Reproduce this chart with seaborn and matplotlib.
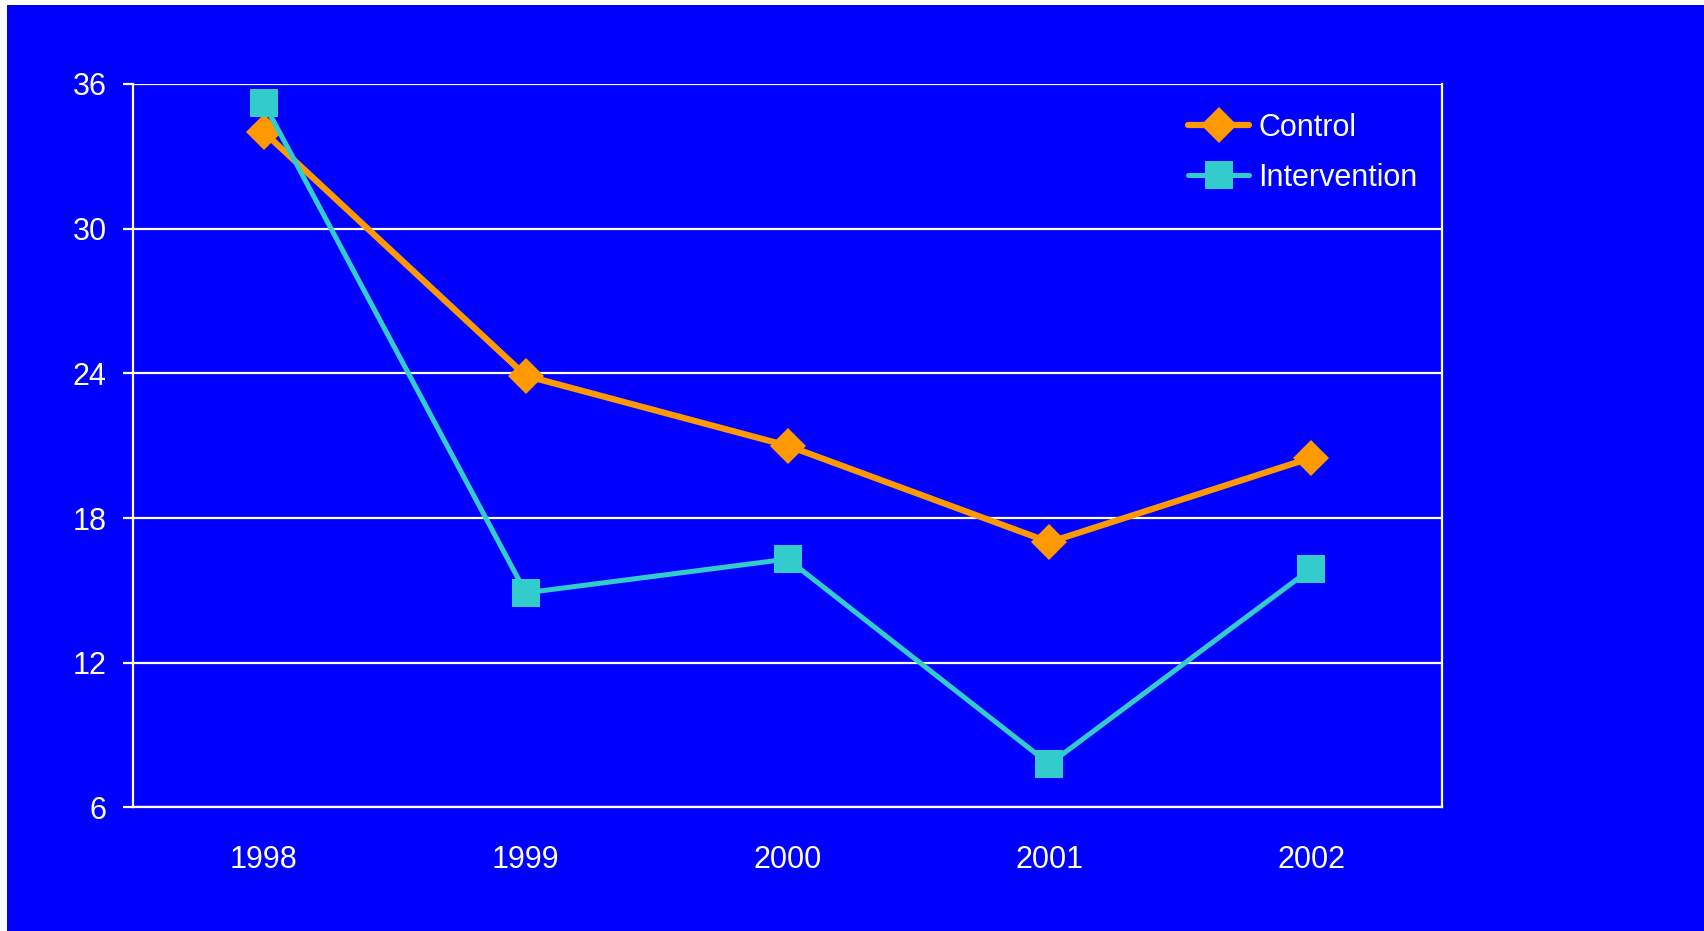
import seaborn as sns
import matplotlib.pyplot as plt
import pandas as pd
from matplotlib.patches import Rectangle

# values
years = ['1998', '1999', '2000', '2001', '2002']
control = [34.0, 23.9, 21.0, 17.0, 20.5]
intervention = [35.2, 14.9, 16.3, 7.8, 15.9]
y_ticks = [6, 12, 18, 24, 30, 36]

blue = '#0000FF'
orange = '#FF9900'
cyan = '#33CCCC'

sns.set_style('white')
plt.rcParams['font.family'] = ['Liberation Sans', 'DejaVu Sans']

fig = plt.figure(figsize=(17.04, 9.31), dpi=100, facecolor='white')
# blue slide background with thin white margin on left/top
fig.patches.append(Rectangle((7 / 1704, 0), 1, 1 - 5 / 931, transform=fig.transFigure,
                             facecolor=blue, edgecolor='none', zorder=-10))

ax = fig.add_axes([0.0781, 0.1327, 0.7682, 0.7771])
ax.set_facecolor(blue)

ctrl_df = pd.DataFrame({'year': years, 'value': control})
int_df = pd.DataFrame({'year': years, 'value': intervention})

sns.lineplot(data=ctrl_df, x='year', y='value', ax=ax, color=orange, linewidth=4.5,
             marker='D', markersize=18, markeredgewidth=0, label='Control', zorder=3)
sns.lineplot(data=int_df, x='year', y='value', ax=ax, color=cyan, linewidth=3.6,
             marker='s', markersize=20, markeredgewidth=0, label='Intervention', zorder=4)

ax.set_xlim(-0.5, 4.5)
ax.set_ylim(6, 36)
ax.set_yticks(y_ticks)
ax.set_xlabel('')
ax.set_ylabel('')

ax.grid(axis='y', color='white', linewidth=1.6)
ax.grid(axis='x', visible=False)
for side in ['left', 'right', 'bottom']:
    ax.spines[side].set_visible(True)
    ax.spines[side].set_color('white')
    ax.spines[side].set_linewidth(1.6)
ax.spines['top'].set_visible(False)

ax.tick_params(axis='y', colors='white', labelsize=22, length=7, width=1.6,
               direction='out', pad=12, left=True)
ax.tick_params(axis='x', colors='white', labelsize=22, length=0, pad=27)

leg = ax.legend(loc='upper left', bbox_to_anchor=(0.806, 0.96), frameon=False,
                fontsize=22, handlelength=2.0, handletextpad=0.3, labelspacing=0.65,
                borderaxespad=0, borderpad=0)
for t in leg.get_texts():
    t.set_color('white')

fig.savefig('out.png', dpi=100, facecolor=fig.get_facecolor())
